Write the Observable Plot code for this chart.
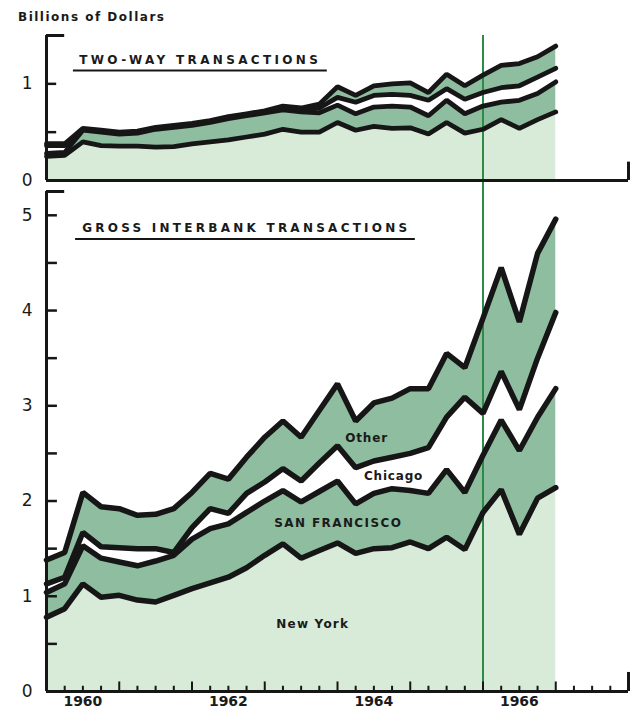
<!DOCTYPE html>
<html><head><meta charset="utf-8">
<script src="https://cdn.jsdelivr.net/npm/d3@7"></script>
<script src="https://cdn.jsdelivr.net/npm/@observablehq/plot@0.6"></script>
<style>
body{margin:0;background:#fff;}
#wrap{position:relative;width:632px;height:713px;overflow:hidden;background:#fff;}
#unit{position:absolute;left:18px;top:10px;font:bold 12px "DejaVu Sans";letter-spacing:1.5px;color:#1a1a1a;}
#top{position:absolute;left:0;top:0;}
#bottom{position:absolute;left:0;top:190px;}
</style></head><body>
<div id="wrap"><div id="top"></div><div id="bottom"></div><div id="unit">Billions of Dollars</div></div>
<script>
// Quarterly observations, 1960 through 1966 (decimal years)
const quarters = [1960,1960.25,1960.5,1960.75,1961,1961.25,1961.5,1961.75,1962,1962.25,1962.5,1962.75,
  1963,1963.25,1963.5,1963.75,1964,1964.25,1964.5,1964.75,1965,1965.25,1965.5,1965.75,1966,1966.25,1966.5,1966.75,1967];
const seriesNames = ["New York","San Francisco","Chicago","Other"];

// Two-way transactions (billions of dollars), by series
const twoWayNewYork = [0.25,0.26,0.40,0.36,0.355,0.355,0.345,0.35,0.38,0.40,0.42,0.45,0.48,0.53,0.50,0.50,0.60,0.52,0.56,0.54,0.545,0.48,0.60,0.49,0.53,0.63,0.54,0.63,0.71];
const twoWaySanFrancisco = [0.03,0.03,0.12,0.14,0.125,0.135,0.185,0.20,0.19,0.20,0.22,0.22,0.22,0.20,0.21,0.20,0.18,0.17,0.20,0.23,0.215,0.19,0.23,0.20,0.24,0.18,0.29,0.27,0.31];
const twoWayChicago = [0.08,0.07,0.01,0.01,0.01,0.01,0.01,0.01,0.01,0.01,0.01,0.01,0.01,0.02,0.02,0.05,0.08,0.12,0.12,0.12,0.12,0.16,0.12,0.15,0.14,0.15,0.15,0.17,0.14];
const twoWayOther = [0.02,0.02,0.01,0.01,0.01,0.01,0.01,0.01,0.01,0.01,0.01,0.01,0.01,0.02,0.02,0.04,0.11,0.07,0.10,0.11,0.13,0.08,0.15,0.14,0.18,0.23,0.23,0.21,0.23];

// Gross interbank transactions (billions of dollars), by series
const grossNewYork = [0.78,0.87,1.13,0.99,1.01,0.96,0.94,1.01,1.08,1.14,1.20,1.30,1.43,1.55,1.40,1.48,1.56,1.45,1.50,1.51,1.57,1.50,1.62,1.49,1.88,2.12,1.65,2.03,2.14];
const grossSanFrancisco = [0.26,0.26,0.40,0.41,0.35,0.36,0.43,0.42,0.52,0.57,0.56,0.58,0.57,0.56,0.59,0.62,0.65,0.52,0.58,0.62,0.54,0.58,0.71,0.60,0.60,0.73,0.88,0.85,1.04];
const grossChicago = [0.09,0.07,0.14,0.12,0.15,0.18,0.13,0.03,0.12,0.21,0.11,0.20,0.20,0.23,0.22,0.30,0.37,0.38,0.34,0.33,0.39,0.48,0.55,1.00,0.44,0.51,0.43,0.62,0.80];
const grossOther = [0.25,0.26,0.42,0.42,0.41,0.35,0.36,0.46,0.37,0.37,0.36,0.38,0.47,0.50,0.46,0.55,0.65,0.49,0.61,0.62,0.68,0.62,0.67,0.31,1.00,1.09,0.92,1.10,0.98];

// Axis ticks and labels
const twoWayTicks = [0.5, 1];
const twoWayTickLabels = [0, 1];
const grossTicks = [0.5,1,1.5,2,2.5,3,3.5,4,4.5,5];
const grossTickLabels = [0,1,2,3,4,5];
const xTickYears = [1960, 1962, 1964, 1966];
const yearBoundaries = [1961,1962,1963,1964,1965,1966,1967];
const quarterTicks = [1960.25,1960.5,1960.75,1961.25,1961.5,1961.75,1962.25,1962.5,1962.75,1963.25,1963.5,1963.75,
  1964.25,1964.5,1964.75,1965.25,1965.5,1965.75,1966.25,1966.5,1966.75,1967.25,1967.5,1967.75];

const light = "#d8ebd9", medium = "#8fbd9f", green = "#2e8b45", ink = "#161616";
const bandFills = [light, medium, "#ffffff", medium];

function rowsFor(arrays) {
  return quarters.flatMap((q, i) => seriesNames.map((s, j) => ({date: q, series: s, value: arrays[j][i]})));
}
const topRows = rowsFor([twoWayNewYork, twoWaySanFrancisco, twoWayChicago, twoWayOther]);
const bottomRows = rowsFor([grossNewYork, grossSanFrancisco, grossChicago, grossOther]);

const style = {fontFamily: "DejaVu Sans", background: "white", color: "#1a1a1a", overflow: "visible"};

const topPlot = Plot.plot({
  width: 632, height: 190, marginLeft: 46, marginRight: 4, marginTop: 35, marginBottom: 0,
  x: {domain: [1960, 1968], range: [46, 628], axis: null},
  y: {domain: [0, 1.5], range: [180, 35], axis: null},
  color: {domain: seriesNames, range: bandFills},
  style,
  marks: [
    Plot.areaY(topRows, {x: "date", y: "value", z: "series", fill: "series"}),
    Plot.ruleX([1966], {stroke: green, strokeWidth: 2}),
    Plot.lineY(topRows, Plot.stackY2({x: "date", y: "value", z: "series", stroke: ink, strokeWidth: 4.8, strokeLinejoin: "miter"})),
    Plot.ruleX([1960], {y1: 0, y2: 1.5, stroke: ink, strokeWidth: 3}),
    Plot.ruleY([1.5], {x1: 1960, x2: 1960.25, stroke: ink, strokeWidth: 3}),
    Plot.ruleY(twoWayTicks, {x1: 1960, x2: 1960.14, stroke: ink, strokeWidth: 2.5}),
    Plot.ruleY([0], {x1: 1960, x2: 1968, stroke: ink, strokeWidth: 3}),
    Plot.ruleX([1968], {y1: 0, y2: 0.19, stroke: ink, strokeWidth: 3}),
    Plot.text(twoWayTickLabels, {y: d => d, text: d => String(d), frameAnchor: "left", dx: -14, textAnchor: "end", fontSize: 17}),
    Plot.text(["TWO-WAY TRANSACTIONS"], {x: 1960.45, y: 1.24, text: d => d, textAnchor: "start", fontWeight: "bold", fontSize: 12}),
    Plot.ruleY([1.137], {x1: 1960.37, x2: 1963.86, stroke: ink, strokeWidth: 2})
  ]
});

const bottomPlot = Plot.plot({
  width: 632, height: 523, marginLeft: 46, marginRight: 4, marginTop: 0, marginBottom: 22,
  x: {domain: [1960, 1968], range: [46, 628], axis: null},
  y: {domain: [0, 5.25], range: [501, 1], axis: null},
  color: {domain: seriesNames, range: bandFills},
  style,
  marks: [
    Plot.areaY(bottomRows, {x: "date", y: "value", z: "series", fill: "series"}),
    Plot.ruleX([1966], {stroke: green, strokeWidth: 2}),
    Plot.lineY(bottomRows, Plot.stackY2({x: "date", y: "value", z: "series", stroke: ink, strokeWidth: 5.5, strokeLinejoin: "miter"})),
    Plot.ruleX([1960], {y1: 0, y2: 5.25, stroke: ink, strokeWidth: 3}),
    Plot.ruleY([5.25], {x1: 1960, x2: 1960.25, stroke: ink, strokeWidth: 3}),
    Plot.ruleY(grossTicks, {x1: 1960, x2: 1960.15, stroke: ink, strokeWidth: 2.5}),
    Plot.ruleY([0], {x1: 1960, x2: 1968, stroke: ink, strokeWidth: 3}),
    Plot.ruleX([1968], {y1: 0, y2: 0.2, stroke: ink, strokeWidth: 3}),
    Plot.ruleX(quarterTicks, {y1: 0, y2: 0.055, stroke: ink, strokeWidth: 2}),
    Plot.ruleX(yearBoundaries, {y1: 0, y2: 0.1, stroke: ink, strokeWidth: 2}),
    Plot.text(grossTickLabels, {y: d => d, text: d => String(d), frameAnchor: "left", dx: -14, textAnchor: "end", fontSize: 17}),
    Plot.text(xTickYears, {x: d => d + 0.5, text: d => String(d), frameAnchor: "bottom", dy: 14, fontSize: 14, fontWeight: "bold"}),
    Plot.text(["GROSS INTERBANK TRANSACTIONS"], {x: 1960.49, y: 4.86, text: d => d, textAnchor: "start", fontWeight: "bold", fontSize: 12}),
    Plot.ruleY([4.75], {x1: 1960.40, x2: 1965.07, stroke: ink, strokeWidth: 2}),
    Plot.text([
      {label: "Other", x: 1964.40, y: 2.655},
      {label: "Chicago", x: 1964.77, y: 2.256},
      {label: "SAN FRANCISCO", x: 1964.01, y: 1.763},
      {label: "New York", x: 1963.66, y: 0.703}
    ], {x: "x", y: "y", text: "label", fontWeight: "bold", fontSize: 12})
  ]
});

document.getElementById("top").appendChild(topPlot);
document.getElementById("bottom").appendChild(bottomPlot);

const spacing = {"TWO-WAY TRANSACTIONS": "3.35px", "GROSS INTERBANK TRANSACTIONS": "3.25px", "SAN FRANCISCO": "1.4px",
  "Other": "0.8px", "Chicago": "0.8px", "New York": "1.2px"};
d3.selectAll("svg text").each(function() {
  const s = spacing[this.textContent];
  if (s) this.style.letterSpacing = s;
});
</script>
</body></html>
